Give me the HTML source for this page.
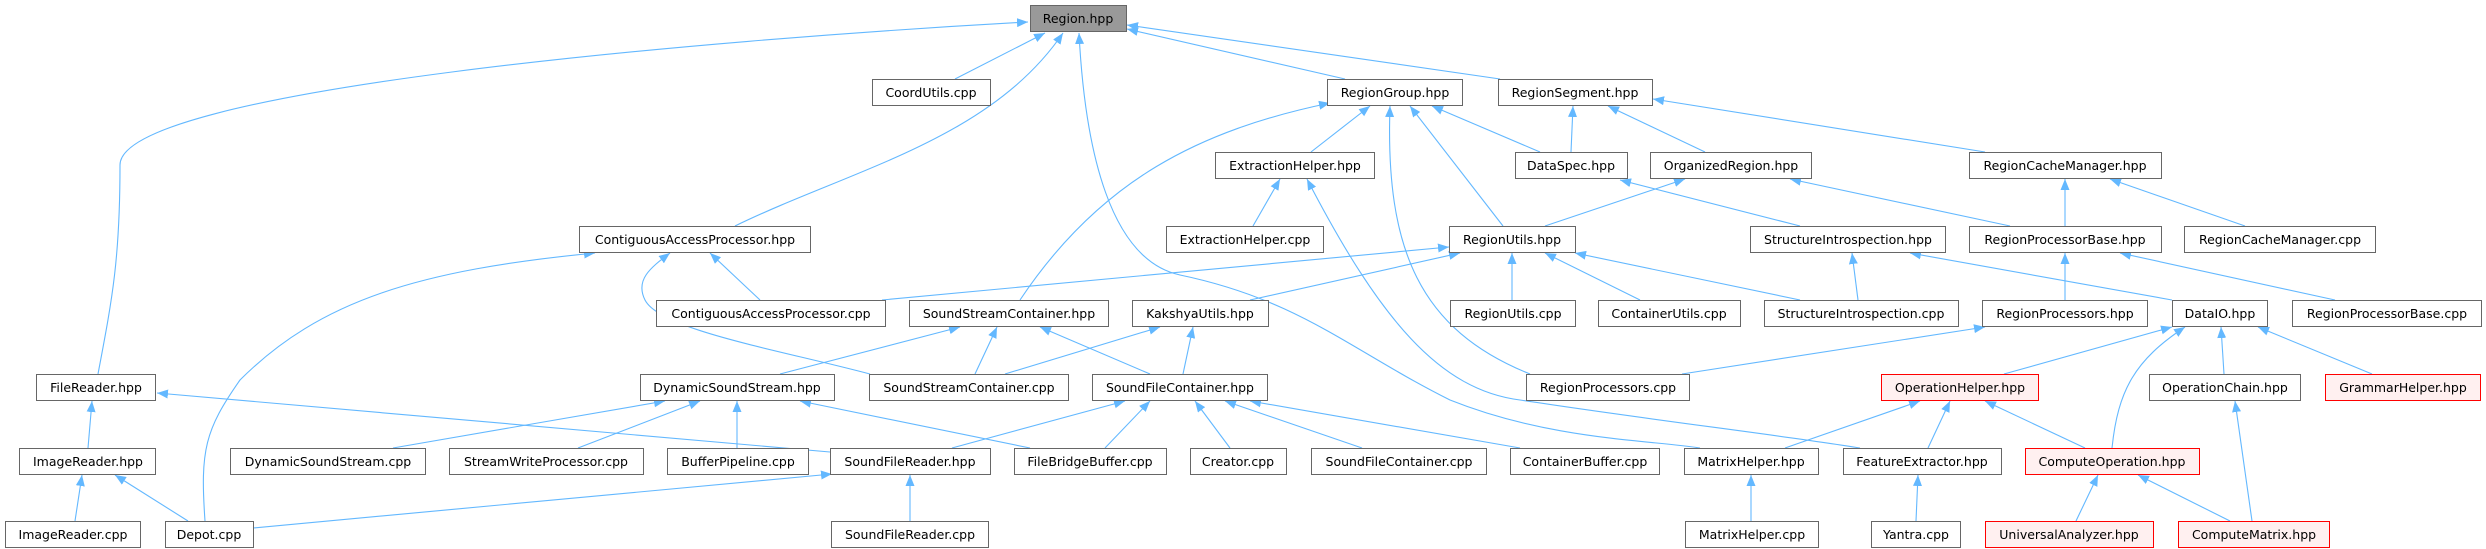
<!DOCTYPE html>
<html><head><meta charset="utf-8"><style>
html,body{margin:0;padding:0;background:#fff;}
svg{display:block;}
text{font-family:"DejaVu Sans","Liberation Sans",sans-serif;font-size:12.5px;fill:#000;text-anchor:middle;}
.e{stroke:#63b8ff;stroke-width:1.1;fill:none;marker-end:url(#a);}
.n{fill:#fff;stroke:#666;stroke-width:1;}
.r{fill:#fff0f0;stroke:#ff0000;stroke-width:1;}
.g{fill:#999;stroke:#666;stroke-width:1;}
</style></head><body>
<svg width="2486" height="549" viewBox="0 0 2486 549" xmlns="http://www.w3.org/2000/svg">
<defs><marker id="a" markerUnits="userSpaceOnUse" markerWidth="12" markerHeight="10" refX="11" refY="4.5" orient="auto"><path d="M0,0 L11,4.5 L0,9 z" fill="#63b8ff"/></marker></defs>
<g>
<path class="e" d="M98,374 C112,300 120,260 120,165 C120,90 700,40 1028,22"/>
<line class="e" x1="955" y1="79" x2="1045" y2="33"/>
<path class="e" d="M735,226 C850,170 990,140 1063,33"/>
<path class="e" d="M1700,448 C1650,440 1550,440 1450,400 C1350,350 1300,300 1180,275 C1110,260 1085,150 1079,33"/>
<line class="e" x1="1345" y1="79" x2="1127" y2="29"/>
<line class="e" x1="1500" y1="79" x2="1127" y2="25"/>
<path class="e" d="M1020,300 C1100,180 1200,130 1330,103"/>
<line class="e" x1="1311" y1="152" x2="1370" y2="106"/>
<path class="e" d="M1530,374 C1420,330 1385,250 1390,106"/>
<line class="e" x1="1503" y1="226" x2="1410" y2="106"/>
<line class="e" x1="1540" y1="152" x2="1432" y2="106"/>
<line class="e" x1="1571" y1="152" x2="1573" y2="106"/>
<line class="e" x1="1705" y1="152" x2="1608" y2="106"/>
<line class="e" x1="1985" y1="152" x2="1653" y2="99"/>
<line class="e" x1="1253" y1="226" x2="1280" y2="179"/>
<path class="e" d="M1860,448 C1780,435 1650,420 1520,400 C1440,390 1380,320 1307,179"/>
<line class="e" x1="1800" y1="226" x2="1620" y2="180"/>
<line class="e" x1="1545" y1="226" x2="1685" y2="179"/>
<line class="e" x1="2010" y1="226" x2="1790" y2="179"/>
<line class="e" x1="2065" y1="226" x2="2065" y2="179"/>
<line class="e" x1="2245" y1="226" x2="2110" y2="179"/>
<path class="e" d="M205,521 C200,450 205,430 240,380 C320,300 420,270 595,253"/>
<line class="e" x1="760" y1="300" x2="710" y2="253"/>
<path class="e" d="M870,374 C780,350 660,330 645,300 C635,280 650,268 670,253"/>
<line class="e" x1="882" y1="300" x2="1449" y2="247"/>
<line class="e" x1="1250" y1="300" x2="1460" y2="253"/>
<line class="e" x1="1512" y1="300" x2="1512" y2="253"/>
<line class="e" x1="1640" y1="300" x2="1545" y2="253"/>
<line class="e" x1="1800" y1="300" x2="1575" y2="253"/>
<line class="e" x1="1858" y1="300" x2="1852" y2="253"/>
<line class="e" x1="2172" y1="300" x2="1910" y2="253"/>
<line class="e" x1="2065" y1="300" x2="2065" y2="253"/>
<line class="e" x1="2335" y1="300" x2="2120" y2="253"/>
<line class="e" x1="780" y1="374" x2="960" y2="327"/>
<line class="e" x1="975" y1="374" x2="997" y2="327"/>
<line class="e" x1="1150" y1="374" x2="1040" y2="327"/>
<line class="e" x1="1005" y1="374" x2="1160" y2="327"/>
<line class="e" x1="1183" y1="374" x2="1193" y2="327"/>
<line class="e" x1="1682" y1="374" x2="1985" y2="327"/>
<line class="e" x1="2004" y1="374" x2="2172" y2="327"/>
<path class="e" d="M2112,448 C2118,390 2135,360 2185,327"/>
<line class="e" x1="2224" y1="374" x2="2221" y2="327"/>
<line class="e" x1="2372" y1="374" x2="2258" y2="327"/>
<line class="e" x1="88" y1="448" x2="92" y2="401"/>
<line class="e" x1="830" y1="452" x2="157" y2="393"/>
<line class="e" x1="393" y1="448" x2="665" y2="401"/>
<line class="e" x1="578" y1="448" x2="700" y2="401"/>
<line class="e" x1="737" y1="448" x2="737" y2="401"/>
<line class="e" x1="1030" y1="448" x2="800" y2="401"/>
<line class="e" x1="952" y1="448" x2="1125" y2="401"/>
<line class="e" x1="1105" y1="448" x2="1150" y2="401"/>
<line class="e" x1="1230" y1="448" x2="1195" y2="401"/>
<line class="e" x1="1362" y1="448" x2="1225" y2="401"/>
<line class="e" x1="1520" y1="448" x2="1250" y2="401"/>
<line class="e" x1="1785" y1="448" x2="1920" y2="401"/>
<line class="e" x1="1928" y1="448" x2="1950" y2="401"/>
<line class="e" x1="2085" y1="448" x2="1985" y2="401"/>
<line class="e" x1="2252" y1="521" x2="2235" y2="401"/>
<line class="e" x1="75" y1="521" x2="82" y2="475"/>
<line class="e" x1="188" y1="521" x2="115" y2="475"/>
<line class="e" x1="253" y1="528" x2="832" y2="474"/>
<line class="e" x1="910" y1="521" x2="910" y2="475"/>
<line class="e" x1="1751" y1="521" x2="1751" y2="475"/>
<line class="e" x1="1916" y1="521" x2="1918" y2="475"/>
<line class="e" x1="2076" y1="521" x2="2098" y2="475"/>
<line class="e" x1="2230" y1="521" x2="2138" y2="475"/>
</g>
<g>
<rect class="g" x="1030.5" y="5.5" width="96" height="26"/><text x="1078" y="23">Region.hpp</text>
<rect class="n" x="872.5" y="79.5" width="118" height="26"/><text x="931" y="97">CoordUtils.cpp</text>
<rect class="n" x="1327.5" y="79.5" width="135" height="26"/><text x="1395" y="97">RegionGroup.hpp</text>
<rect class="n" x="1498.5" y="79.5" width="154" height="26"/><text x="1575" y="97">RegionSegment.hpp</text>
<rect class="n" x="1215.5" y="152.5" width="159" height="26"/><text x="1295" y="170">ExtractionHelper.hpp</text>
<rect class="n" x="1515.5" y="152.5" width="112" height="26"/><text x="1571" y="170">DataSpec.hpp</text>
<rect class="n" x="1650.5" y="152.5" width="161" height="26"/><text x="1731" y="170">OrganizedRegion.hpp</text>
<rect class="n" x="1969.5" y="152.5" width="192" height="26"/><text x="2065" y="170">RegionCacheManager.hpp</text>
<rect class="n" x="579.5" y="226.5" width="231" height="26"/><text x="695" y="244">ContiguousAccessProcessor.hpp</text>
<rect class="n" x="1166.5" y="226.5" width="157" height="26"/><text x="1245" y="244">ExtractionHelper.cpp</text>
<rect class="n" x="1449.5" y="226.5" width="126" height="26"/><text x="1512" y="244">RegionUtils.hpp</text>
<rect class="n" x="1750.5" y="226.5" width="195" height="26"/><text x="1848" y="244">StructureIntrospection.hpp</text>
<rect class="n" x="1969.5" y="226.5" width="192" height="26"/><text x="2065" y="244">RegionProcessorBase.hpp</text>
<rect class="n" x="2184.5" y="226.5" width="191" height="26"/><text x="2280" y="244">RegionCacheManager.cpp</text>
<rect class="n" x="656.5" y="300.5" width="229" height="26"/><text x="771" y="318">ContiguousAccessProcessor.cpp</text>
<rect class="n" x="909.5" y="300.5" width="199" height="26"/><text x="1009" y="318">SoundStreamContainer.hpp</text>
<rect class="n" x="1132.5" y="300.5" width="136" height="26"/><text x="1200" y="318">KakshyaUtils.hpp</text>
<rect class="n" x="1450.5" y="300.5" width="125" height="26"/><text x="1513" y="318">RegionUtils.cpp</text>
<rect class="n" x="1598.5" y="300.5" width="142" height="26"/><text x="1669" y="318">ContainerUtils.cpp</text>
<rect class="n" x="1764.5" y="300.5" width="194" height="26"/><text x="1861" y="318">StructureIntrospection.cpp</text>
<rect class="n" x="1982.5" y="300.5" width="165" height="26"/><text x="2065" y="318">RegionProcessors.hpp</text>
<rect class="n" x="2172.5" y="300.5" width="95" height="26"/><text x="2220" y="318">DataIO.hpp</text>
<rect class="n" x="2292.5" y="300.5" width="189" height="26"/><text x="2387" y="318">RegionProcessorBase.cpp</text>
<rect class="n" x="36.5" y="374.5" width="119" height="26"/><text x="96" y="392">FileReader.hpp</text>
<rect class="n" x="640.5" y="374.5" width="194" height="26"/><text x="737" y="392">DynamicSoundStream.hpp</text>
<rect class="n" x="869.5" y="374.5" width="199" height="26"/><text x="969" y="392">SoundStreamContainer.cpp</text>
<rect class="n" x="1092.5" y="374.5" width="175" height="26"/><text x="1180" y="392">SoundFileContainer.hpp</text>
<rect class="n" x="1526.5" y="374.5" width="163" height="26"/><text x="1608" y="392">RegionProcessors.cpp</text>
<rect class="r" x="1881.5" y="374.5" width="157" height="26"/><text x="1960" y="392">OperationHelper.hpp</text>
<rect class="n" x="2149.5" y="374.5" width="151" height="26"/><text x="2225" y="392">OperationChain.hpp</text>
<rect class="r" x="2325.5" y="374.5" width="155" height="26"/><text x="2403" y="392">GrammarHelper.hpp</text>
<rect class="n" x="19.5" y="448.5" width="136" height="26"/><text x="88" y="466">ImageReader.hpp</text>
<rect class="n" x="230.5" y="448.5" width="195" height="26"/><text x="328" y="466">DynamicSoundStream.cpp</text>
<rect class="n" x="449.5" y="448.5" width="194" height="26"/><text x="546" y="466">StreamWriteProcessor.cpp</text>
<rect class="n" x="667.5" y="448.5" width="141" height="26"/><text x="738" y="466">BufferPipeline.cpp</text>
<rect class="n" x="830.5" y="448.5" width="160" height="26"/><text x="910" y="466">SoundFileReader.hpp</text>
<rect class="n" x="1014.5" y="448.5" width="152" height="26"/><text x="1090" y="466">FileBridgeBuffer.cpp</text>
<rect class="n" x="1190.5" y="448.5" width="96" height="26"/><text x="1238" y="466">Creator.cpp</text>
<rect class="n" x="1311.5" y="448.5" width="175" height="26"/><text x="1399" y="466">SoundFileContainer.cpp</text>
<rect class="n" x="1510.5" y="448.5" width="149" height="26"/><text x="1585" y="466">ContainerBuffer.cpp</text>
<rect class="n" x="1684.5" y="448.5" width="134" height="26"/><text x="1751" y="466">MatrixHelper.hpp</text>
<rect class="n" x="1843.5" y="448.5" width="158" height="26"/><text x="1922" y="466">FeatureExtractor.hpp</text>
<rect class="r" x="2025.5" y="448.5" width="174" height="26"/><text x="2112" y="466">ComputeOperation.hpp</text>
<rect class="n" x="5.5" y="521.5" width="135" height="26"/><text x="73" y="539">ImageReader.cpp</text>
<rect class="n" x="165.5" y="521.5" width="88" height="26"/><text x="209" y="539">Depot.cpp</text>
<rect class="n" x="831.5" y="521.5" width="157" height="26"/><text x="910" y="539">SoundFileReader.cpp</text>
<rect class="n" x="1685.5" y="521.5" width="133" height="26"/><text x="1752" y="539">MatrixHelper.cpp</text>
<rect class="n" x="1871.5" y="521.5" width="89" height="26"/><text x="1916" y="539">Yantra.cpp</text>
<rect class="r" x="1985.5" y="521.5" width="168" height="26"/><text x="2069" y="539">UniversalAnalyzer.hpp</text>
<rect class="r" x="2178.5" y="521.5" width="151" height="26"/><text x="2254" y="539">ComputeMatrix.hpp</text>
</g>
</svg>
</body></html>
